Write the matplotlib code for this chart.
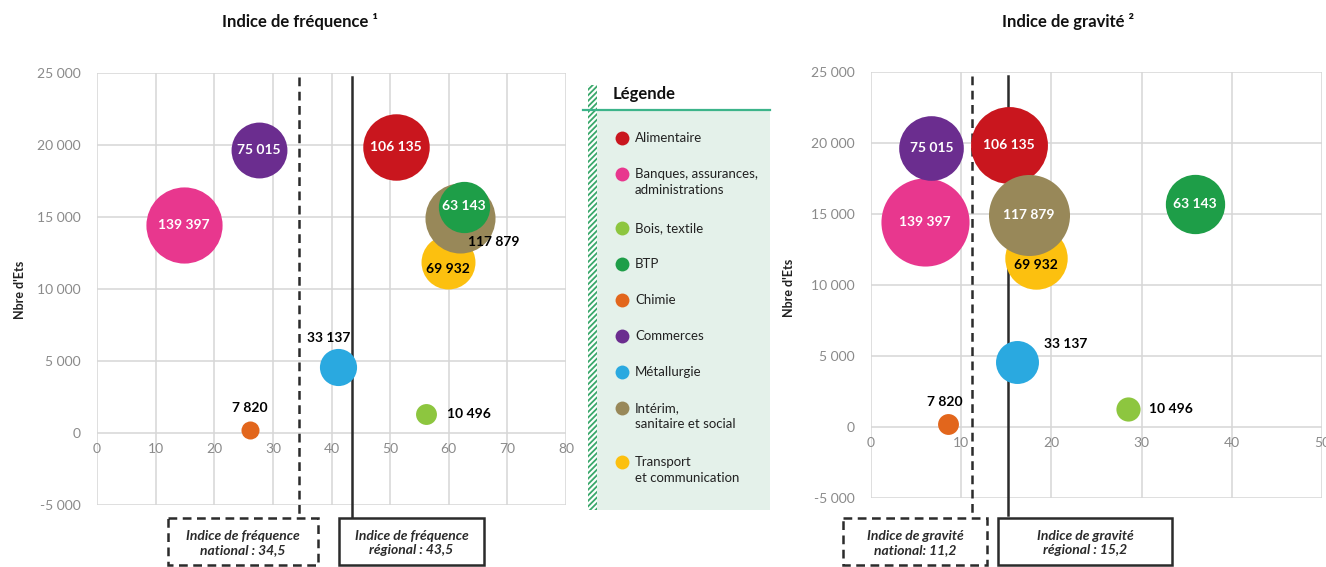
import numpy as np
import matplotlib
matplotlib.use("Agg")
import matplotlib.pyplot as plt
from matplotlib.patches import Rectangle
from matplotlib.ticker import FuncFormatter

plt.rcParams['font.family'] = ['Lato', 'DejaVu Sans']
plt.rcParams['hatch.linewidth'] = 1.3

# ---- data ----
secteurs = ["Alimentaire", "Banques, assurances,\nadministrations", "Bois, textile", "BTP",
            "Chimie", "Commerces", "Métallurgie", "Intérim,\nsanitaire et social",
            "Transport\net communication"]
couleurs = ["#c9161e", "#e8378e", "#8dc63f", "#1e9e48", "#e2661c",
            "#6b2d8f", "#2aa9e0", "#988859", "#fcc00f"]
effectifs = [106135, 139397, 10496, 63143, 7820, 75015, 33137, 117879, 69932]
nb_ets = [19850, 14450, 1300, 15700, 200, 19650, 4600, 14900, 11900]
indice_freq = [51.0, 14.8, 56.1, 62.6, 26.1, 27.6, 41.1, 62.0, 59.8]
indice_grav = [15.3, 6.0, 28.5, 35.9, 8.5, 6.7, 16.2, 17.5, 18.3]

freq_nat, freq_reg = 34.5, 43.5
grav_nat, grav_reg = 11.2, 15.2

W, H = 1326, 567
DPI = 100

# drawing order (which bubble lies on top of which)
ordre = [8, 0, 1, 5, 7, 3, 6, 4, 2]

# label placement per sector: offset in points + colour
lab_freq = {0: ((0, 0), 'w'), 1: ((0, 0), 'w'), 2: ((31, 0), 'k'), 3: ((0, 1), 'w'),
            4: ((0, 16), 'k'), 5: ((0, 0), 'w'), 6: ((-7, 21), 'k'),
            7: ((24, -17), 'k'), 8: ((0, -5), 'k')}
lab_grav = {0: ((0, 0), 'w'), 1: ((0, 0), 'w'), 2: ((31, 0), 'k'), 3: ((0, 0), 'w'),
            4: ((-2, 16), 'k'), 5: ((0, 0), 'w'), 6: ((35, 13), 'k'),
            7: ((0, 0), 'w'), 8: ((0, -5), 'k')}


def fmt_milliers(v, pos=None):
    return f"{v:,.0f}".replace(",", " ")


def fig_rect(x0, y0, x1, y1):
    # pixel box (top-left origin) -> figure fraction [l, b, w, h]
    return [x0 / W, 1 - y1 / H, (x1 - x0) / W, (y1 - y0) / H]


def draw_chart(ax, xs, xmax, scale_px, nat, reg, labels):
    ax.set_xlim(0, xmax)
    ax.set_ylim(-5000, 25000)
    ax.set_xticks(np.arange(0, xmax + 1, 10))
    ax.set_yticks(np.arange(-5000, 25001, 5000))
    ax.yaxis.set_major_formatter(FuncFormatter(fmt_milliers))
    ax.grid(color='#d6d6d6', lw=1.1, zorder=0)
    ax.set_axisbelow(True)
    for s in ax.spines.values():
        s.set_visible(False)
    ax.spines['bottom'].set_position(('data', 0))
    ax.tick_params(length=0, labelsize=10, labelcolor='#8a8a8a')
    ax.tick_params(axis='x', pad=7)
    ax.tick_params(axis='y', pad=12)

    # reference lines, run down to the boxes below the plot
    trans = ax.get_xaxis_transform()
    ax.plot([nat, nat], [0.99, -0.04], transform=trans, color='#2b2b2b', lw=1.8,
            ls=(0, (3.5, 2.2)), clip_on=False, zorder=1)
    ax.plot([reg, reg], [0.99, -0.04], transform=trans, color='#2b2b2b', lw=1.8,
            clip_on=False, zorder=1)

    for i in ordre:
        d_pt = scale_px * np.sqrt(effectifs[i]) * 72 / DPI
        ax.scatter(xs[i], nb_ets[i], s=d_pt ** 2, color=couleurs[i], lw=0, zorder=2)
    for i in ordre:
        off, c = labels[i]
        ax.annotate(fmt_milliers(effectifs[i]), (xs[i], nb_ets[i]), xytext=off,
                    textcoords='offset points', ha='center', va='center',
                    fontsize=10, fontweight='bold', color=c, zorder=3)


fig = plt.figure(figsize=(W / DPI, H / DPI), dpi=DPI)

ax1 = fig.add_axes(fig_rect(97, 73, 566, 505))
draw_chart(ax1, indice_freq, 80, 0.204, freq_nat, freq_reg, lab_freq)

ax2 = fig.add_axes(fig_rect(871, 72, 1322, 498))
draw_chart(ax2, indice_grav, 50, 0.236, grav_nat, grav_reg, lab_grav)

# overlay in pixel coordinates for titles, boxes and legend panel
ov = fig.add_axes([0, 0, 1, 1], zorder=5)
ov.set_xlim(0, W)
ov.set_ylim(H, 0)
ov.axis('off')
ov.patch.set_alpha(0)

ov.text(300, 22, "Indice de fréquence ¹", ha='center', va='center',
        fontsize=12, fontweight='bold', color='#111111')
ov.text(1068, 22, "Indice de gravité ²", ha='center', va='center',
        fontsize=12, fontweight='bold', color='#111111')
ov.text(20, 290, "Nbre d'Ets", rotation=90, ha='center', va='center',
        fontsize=9, fontweight='bold', color='#222222')
ov.text(789, 288, "Nbre d'Ets", rotation=90, ha='center', va='center',
        fontsize=9, fontweight='bold', color='#222222')

boxes = [
    (168, 318, True, f"Indice de fréquence\nnational : {freq_nat}".replace('.', ',')),
    (339, 484, False, f"Indice de fréquence\nrégional : {freq_reg}".replace('.', ',')),
    (843, 987, True, f"Indice de gravité\nnational: {grav_nat}".replace('.', ',')),
    (998, 1172, False, f"Indice de gravité\nrégional : {grav_reg}".replace('.', ',')),
]
for x0, x1, dashed, txt in boxes:
    ov.add_patch(Rectangle((x0, 518), x1 - x0, 47, facecolor='white',
                           edgecolor='#2b2b2b', lw=1.8,
                           ls=(0, (3.5, 2.2)) if dashed else '-'))
    ov.text((x0 + x1) / 2, 543, txt, ha='center', va='center', fontsize=10,
            fontweight='bold', style='italic', color='#2b2b2b', linespacing=1.3)

# legend panel
ov.add_patch(Rectangle((596, 110), 174, 400, facecolor='#e4f1ea', lw=0))
ov.add_patch(Rectangle((588, 85), 9, 425, facecolor='white', edgecolor='#3aa86b',
                       hatch='//////', lw=0))
ov.plot([583, 770], [110, 110], color='#3cb48a', lw=1.6)
ov.text(613, 94, "Légende", ha='left', va='center', fontsize=12,
        fontweight='bold', color='#111111')
y = 138
for nom, c in zip(secteurs, couleurs):
    ov.scatter(622, y, s=100, color=c, lw=0)
    ov.text(635, y - 6, nom, ha='left', va='top', fontsize=9.5,
            color='#222222', linespacing=1.45)
    y += 36 + 18 * nom.count('\n')

fig.savefig("out.png", dpi=DPI)
